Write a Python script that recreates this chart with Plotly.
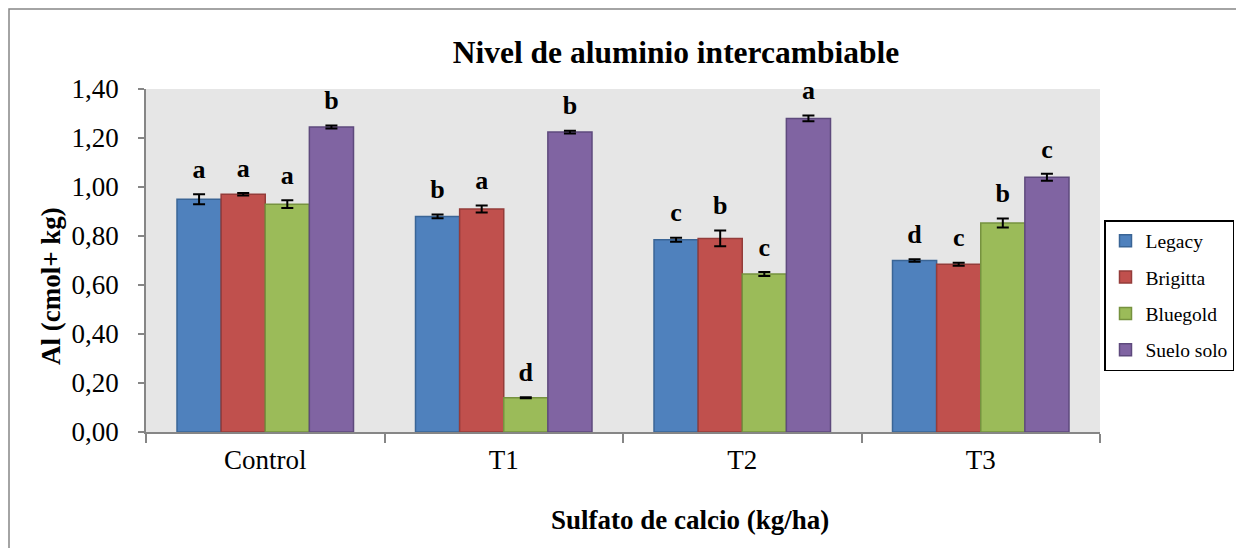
import plotly.graph_objects as go

categories = ["Control", "T1", "T2", "T3"]
series_names = ["Legacy", "Brigitta", "Bluegold", "Suelo solo"]
legacy = [0.95, 0.88, 0.785, 0.70]
brigitta = [0.97, 0.91, 0.79, 0.685]
bluegold = [0.93, 0.14, 0.645, 0.853]
suelo = [1.245, 1.224, 1.28, 1.04]
legacy_err = [0.02, 0.008, 0.008, 0.005]
brigitta_err = [0.005, 0.014, 0.032, 0.006]
bluegold_err = [0.016, 0.002, 0.008, 0.018]
suelo_err = [0.006, 0.006, 0.012, 0.014]
legacy_letters = ["a", "b", "c", "d"]
brigitta_letters = ["a", "a", "b", "c"]
bluegold_letters = ["a", "d", "c", "b"]
suelo_letters = ["b", "b", "a", "c"]

values = [legacy, brigitta, bluegold, suelo]
errors = [legacy_err, brigitta_err, bluegold_err, suelo_err]
letters = [legacy_letters, brigitta_letters, bluegold_letters, suelo_letters]
fills = ["#4F81BD", "#C0504D", "#9BBB59", "#8064A2"]
edges = ["#3A6596", "#943C3A", "#76923F", "#5E4A7D"]

SERIF = "Liberation Serif"

W, H = 1236, 540
L, T, R, B = 138, 81, 144, 116
PW, PH = W - L - R, H - T - B

fig = go.Figure()
for i, name in enumerate(series_names):
    fig.add_trace(go.Bar(
        x=categories, y=values[i], name=name,
        marker=dict(color=fills[i], line=dict(color=edges[i], width=1.5)),
        error_y=dict(type="data", array=errors[i], color="black", thickness=2, width=6),
        offsetgroup=str(i), legendgroup=str(i),
    ))
for i, name in enumerate(series_names):
    fig.add_trace(go.Scatter(
        x=categories, y=[v + e for v, e in zip(values[i], errors[i])],
        mode="markers+text", text=letters[i], textposition="top center",
        marker=dict(size=14, opacity=0), cliponaxis=False,
        textfont=dict(family=SERIF, size=26, color="black", weight="bold"),
        offsetgroup=str(i), showlegend=False, hoverinfo="skip",
    ))

fig.update_layout(
    width=W, height=H,
    margin=dict(l=L, r=R, t=T, b=B, autoexpand=False),
    paper_bgcolor="white", plot_bgcolor="#E6E6E6",
    barmode="group", bargap=0.26, bargroupgap=0,
    scattermode="group", scattergap=0.26,
    separators=",.",
    font=dict(family=SERIF, size=27, color="black"),
    showlegend=True,
    legend=dict(
        x=(1096 - L) / PW, xanchor="left", y=(T + PH - 212) / PH, yanchor="top",
        bordercolor="black", borderwidth=1.5, bgcolor="white",
        font=dict(family=SERIF, size=19.5, color="black"),
        tracegroupgap=8, itemwidth=30,
    ),
    title=dict(text="<b>Nivel de aluminio intercambiable</b>", x=668 / W, xanchor="center",
               y=1 - 44 / H, yanchor="middle",
               font=dict(family=SERIF, size=31.5, color="black")),
    xaxis=dict(
        showline=True, linecolor="#868686", linewidth=1.5,
        ticks="outside", tickson="boundaries", ticklen=9, tickcolor="#868686", tickwidth=1.5,
        showgrid=False, tickfont=dict(family=SERIF, size=27), ticklabelstandoff=3,
    ),
    yaxis=dict(
        range=[0, 1.4], dtick=0.2, tickformat=".2f",
        showline=True, linecolor="#868686", linewidth=1.5,
        ticks="outside", ticklen=6, tickcolor="#868686", tickwidth=1.5,
        showgrid=False, zeroline=False, tickfont=dict(family=SERIF, size=27),
        ticklabelstandoff=14,
    ),
    annotations=[
        dict(text="<b>Sulfato de calcio (kg/ha)</b>", xref="paper", yref="paper",
             x=(682 - L) / PW, y=-(512 - (T + PH)) / PH, xanchor="center", yanchor="middle",
             showarrow=False, font=dict(family=SERIF, size=27, color="black")),
        dict(text="<b>Al (cmol+ kg)</b>", xref="paper", yref="paper",
             x=(43 - L) / PW, y=(T + PH - 278) / PH, xanchor="center", yanchor="middle",
             textangle=-90,
             showarrow=False, font=dict(family=SERIF, size=27, color="black")),
    ],
    shapes=[
        dict(type="rect", xref="paper", yref="paper",
             x0=(1 - L) / PW, x1=(W + 20 - L) / PW,
             y0=-(H + 20 - (T + PH)) / PH, y1=(T + PH - 1) / PH,
             line=dict(color="#868686", width=1.5), fillcolor="rgba(0,0,0,0)", layer="below"),
    ],
)

fig.write_html("out.html")
